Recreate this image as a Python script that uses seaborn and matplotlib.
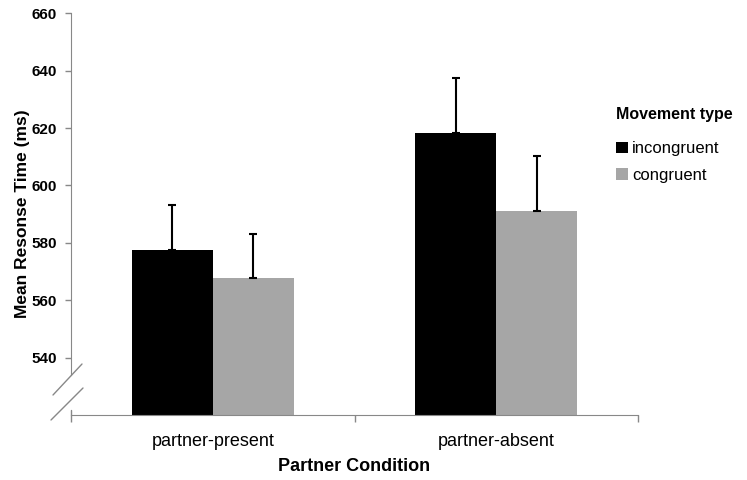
import matplotlib
matplotlib.use("Agg")
import matplotlib.pyplot as plt
import matplotlib.lines as mlines
import seaborn as sns
import pandas as pd
import numpy as np

conditions = ["partner-present", "partner-absent"]
movement_types = ["incongruent", "congruent"]
incongruent_means = [577.4, 618.4]
congruent_means = [567.7, 591.1]
incongruent_err = [15.8, 19.1]
congruent_err = [15.4, 19.2]
y_ticks = [540, 560, 580, 600, 620, 640, 660]

df = pd.DataFrame({
    "Partner Condition": conditions * 2,
    "Movement type": [movement_types[0]] * 2 + [movement_types[1]] * 2,
    "rt": incongruent_means + congruent_means,
    "err": incongruent_err + congruent_err,
})

sns.set_style("white")
plt.rcParams["font.family"] = ["Liberation Sans", "DejaVu Sans"]
plt.rcParams["text.color"] = "black"
plt.rcParams["axes.labelcolor"] = "black"
plt.rcParams["xtick.color"] = "black"
plt.rcParams["ytick.color"] = "black"

fig = plt.figure(figsize=(7.47, 4.8), dpi=100)
ax = fig.add_axes([71 / 747, 1 - 415 / 480, (638 - 71) / 747, (415 - 13.3) / 480])

palette = {"incongruent": "#000000", "congruent": "#a6a6a6"}
sns.barplot(data=df, x="Partner Condition", y="rt", hue="Movement type",
            order=conditions, hue_order=movement_types, palette=palette,
            errorbar=None, width=0.57, gap=0, saturation=1, ax=ax,
            edgecolor="none", linewidth=0)

# error bars (upward only)
for h, mt in enumerate(movement_types):
    sub = df[df["Movement type"] == mt].set_index("Partner Condition").loc[conditions]
    cont = ax.containers[h]
    xs = [p.get_x() + p.get_width() / 2 for p in cont.patches]
    ax.errorbar(xs, sub["rt"].values, yerr=[np.zeros(len(xs)), sub["err"].values],
                fmt="none", ecolor="black", elinewidth=1.5, capsize=3, capthick=1.5,
                zorder=5)

ax.set_ylim(520, 660)
ax.set_xlim(-0.5, 1.5)
ax.set_yticks(y_ticks)
ax.set_yticklabels([str(t) for t in y_ticks], fontsize=11, fontweight="bold")

ax.set_xticks([-0.5, 0.5, 1.5])
ax.set_xticklabels(["", "", ""])
ax.set_xticks([0, 1], minor=True)
ax.set_xticklabels(conditions, minor=True, fontsize=13)
ax.tick_params(axis="x", which="major", direction="out", length=5, width=1, color="#888888", bottom=True)
ax.tick_params(axis="x", which="minor", length=0, pad=13)
ax.tick_params(axis="y", direction="out", length=4, width=1, color="#888888", left=True, pad=6)

ax.set_xlabel("Partner Condition", fontsize=13, fontweight="bold", labelpad=6)
ax.set_ylabel("Mean Resonse Time (ms)", fontsize=12.5, fontweight="bold", labelpad=1)

for s in ["top", "right"]:
    ax.spines[s].set_visible(False)
ax.spines["left"].set_color("#888888")
ax.spines["bottom"].set_color("#888888")
ax.spines["left"].set_bounds(534, 660)

# small piece of y axis at bottom
ax.plot([-0.5, -0.5], [520, 521.6], color="#888888", lw=1, clip_on=False, zorder=6)

# break marks
for (x0, y0, x1, y1) in [(82, 364, 53, 395), (83, 388, 51, 420)]:
    fig.add_artist(mlines.Line2D([x0 / 747, x1 / 747], [1 - y0 / 480, 1 - y1 / 480],
                                 color="#888888", lw=1, transform=fig.transFigure))

leg = ax.legend(title="Movement type", loc="upper left",
                bbox_to_anchor=(601 / 747, 1 - 92 / 480), bbox_transform=fig.transFigure,
                frameon=False, fontsize=12, title_fontproperties={"weight": "bold", "size": 11.5},
                handlelength=0.7, handleheight=0.7, handletextpad=0.25, labelspacing=0.7)
leg._legend_box.align = "left"
leg._legend_box.sep = 14

fig.savefig("out.png", dpi=100)
